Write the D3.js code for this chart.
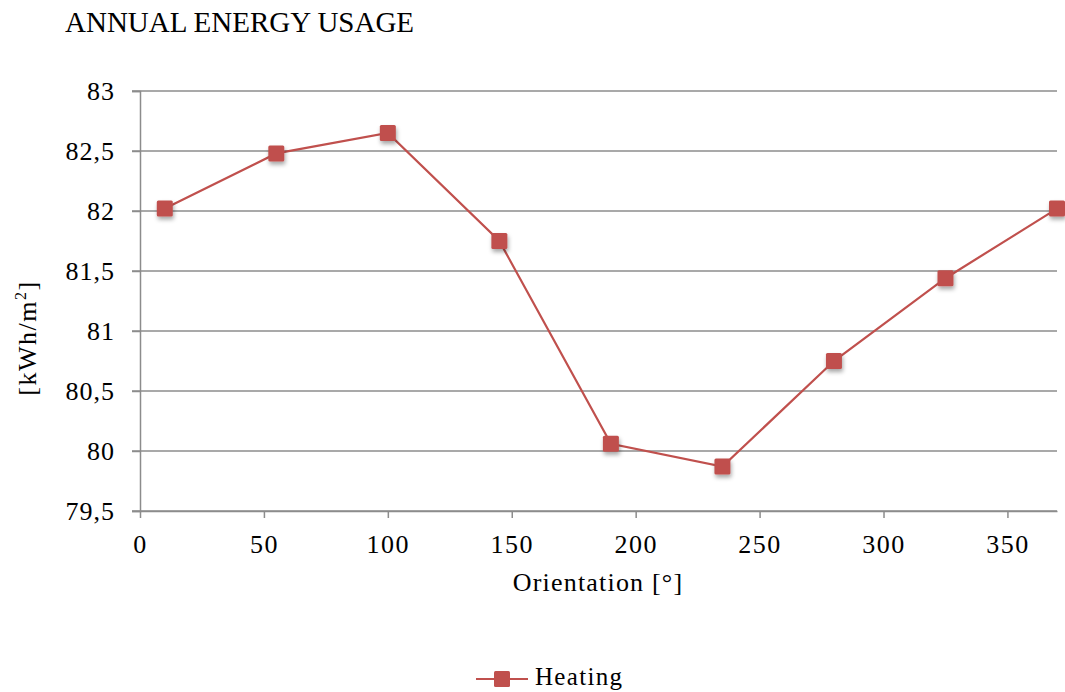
<!DOCTYPE html>
<html>
<head>
<meta charset="utf-8">
<script src="https://cdn.jsdelivr.net/npm/d3@7/dist/d3.min.js"></script>
<style>
  html, body { margin: 0; padding: 0; background: #fff; }
  svg { display: block; }
  text { font-family: "Liberation Serif", "DejaVu Serif", serif; fill: #000; }
</style>
</head>
<body>
<svg id="chart" width="1065" height="692"></svg>
<script>
// Orientation angles (degrees) and annual heating demand (kWh/m²)
const orientations = [10, 55, 100, 145, 190, 235, 280, 325, 370];
const heating = [82.02, 82.48, 82.65, 81.75, 80.06, 79.87, 80.75, 81.44, 82.02];
const xTicks = [0, 50, 100, 150, 200, 250, 300, 350];
const yTicks = [79.5, 80, 80.5, 81, 81.5, 82, 82.5, 83];
const seriesName = "Heating";

const svg = d3.select("#chart");
const margin = { left: 140, right: 8, top: 91, bottom: 181 };
const W = 1065, H = 692;

const x = d3.scaleLinear().domain([0, 370]).range([margin.left, W - margin.right]);
const y = d3.scaleLinear().domain([79.5, 83]).range([H - margin.bottom, margin.top]);

const fmt = v => String(v).replace(".", ",");
const gridColor = "#8c8c8c";
const red = "#c0504d";
const tickFont = 26;

// horizontal gridlines
svg.append("g").selectAll("line").data(yTicks).join("line")
  .attr("x1", x(0) - 8).attr("x2", x(370))
  .attr("y1", d => y(d)).attr("y2", d => y(d))
  .attr("stroke", gridColor).attr("stroke-width", 1.5);

// y axis
const yAxis = svg.append("g").attr("transform", `translate(${x(0)},0)`)
  .call(d3.axisLeft(y).tickValues(yTicks).tickFormat(fmt).tickSize(8).tickPadding(17));
yAxis.select(".domain").attr("stroke", gridColor).attr("stroke-width", 1.5);
yAxis.selectAll(".tick line").attr("stroke", gridColor).attr("stroke-width", 1.5);
yAxis.selectAll("text").attr("font-size", tickFont).attr("font-family", null)
  .attr("letter-spacing", 1).attr("dy", "0.33em");

// x axis
const xAxis = svg.append("g").attr("transform", `translate(0,${y(79.5)})`)
  .call(d3.axisBottom(x).tickValues(xTicks).tickSize(7).tickPadding(17).tickSizeOuter(0));
xAxis.select(".domain").attr("stroke", gridColor).attr("stroke-width", 1.5);
xAxis.selectAll(".tick line").attr("stroke", gridColor).attr("stroke-width", 1.5);
xAxis.selectAll("text").attr("font-size", tickFont).attr("font-family", null)
  .attr("letter-spacing", 1.5);

// title
svg.append("text").attr("x", 65).attr("y", 32).attr("font-size", 29).text("ANNUAL ENERGY USAGE");

// axis titles
svg.append("text").attr("x", 598).attr("y", 591).attr("text-anchor", "middle")
  .attr("font-size", 26).attr("letter-spacing", 1.2).text("Orientation [°]");
const yt = svg.append("text").attr("transform", "translate(36,338) rotate(-90)")
  .attr("text-anchor", "middle").attr("font-size", 26).attr("letter-spacing", 1.5);
yt.append("tspan").text("[kWh/m");
yt.append("tspan").attr("font-size", 16).attr("dy", "-0.6em").text("2");
yt.append("tspan").attr("dy", "0.38em").text("]");

// marker shadow
const defs = svg.append("defs");
const f = defs.append("filter").attr("id", "shadow").attr("x", "-50%").attr("y", "-50%").attr("width", "200%").attr("height", "200%");
f.append("feDropShadow").attr("dx", 1).attr("dy", 3).attr("stdDeviation", 2).attr("flood-color", "#000").attr("flood-opacity", 0.35);

const pts = orientations.map((o, i) => [o, heating[i]]);

// series line
svg.append("path").datum(pts)
  .attr("fill", "none").attr("stroke", red).attr("stroke-width", 2.2)
  .attr("d", d3.line().x(d => x(d[0])).y(d => y(d[1])));

// square markers
const ms = 16;
svg.append("g").selectAll("rect").data(pts).join("rect")
  .attr("x", d => x(d[0]) - ms / 2).attr("y", d => y(d[1]) - ms / 2)
  .attr("width", ms).attr("height", ms).attr("rx", 1.5)
  .attr("fill", red).attr("filter", "url(#shadow)");

// legend
const lg = svg.append("g").attr("transform", "translate(476,679)");
lg.append("line").attr("x1", 0).attr("x2", 52).attr("y1", 0).attr("y2", 0)
  .attr("stroke", red).attr("stroke-width", 2.2);
lg.append("rect").attr("x", 26 - ms / 2).attr("y", -ms / 2).attr("width", ms).attr("height", ms)
  .attr("rx", 1.5).attr("fill", red);
lg.append("text").attr("x", 59).attr("y", 6).attr("font-size", 25).attr("letter-spacing", 1.3).text(seriesName);
</script>
</body>
</html>
